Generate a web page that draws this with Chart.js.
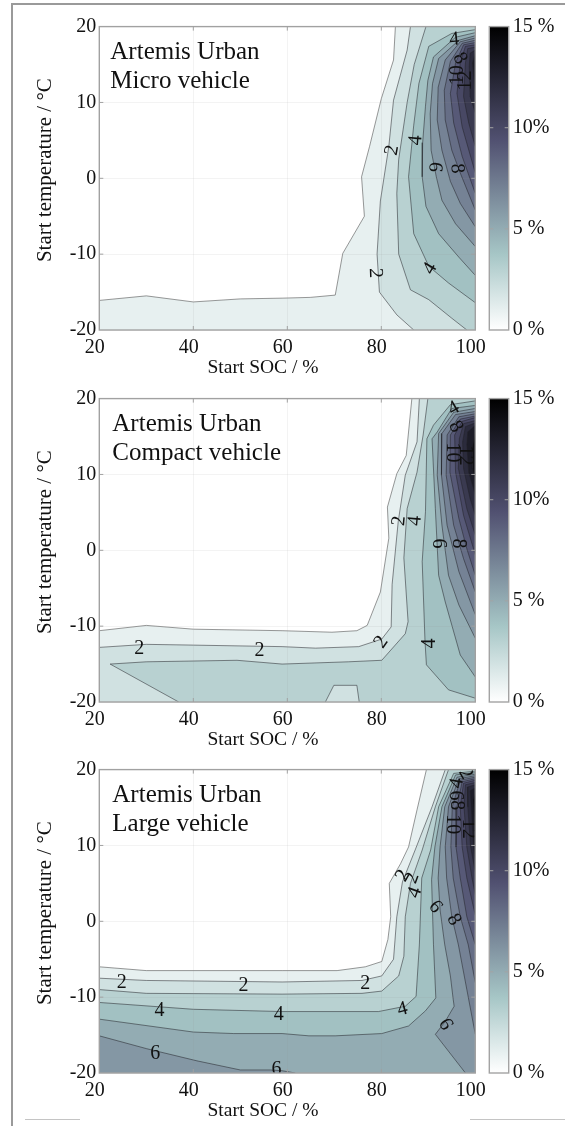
<!DOCTYPE html>
<html>
<head>
<meta charset="utf-8">
<title>Artemis Urban</title>
<script src="https://cdn.jsdelivr.net/npm/chart.js@4/dist/chart.umd.min.js"></script>
<style>
html, body { margin: 0; padding: 0; background: #fff; overflow: hidden; }
#page { position: relative; width: 565px; height: 1126px; }
#page canvas { position: absolute; }
.rule { position: absolute; background: #9a9a9a; }
</style>
</head>
<body>
<div id="page">
  <div class="rule" style="left:11px;top:3px;width:554px;height:2px"></div>
  <div class="rule" style="left:11px;top:3px;width:2px;height:1123px"></div>
  <div class="rule" style="left:25px;top:1119px;width:55px;height:1px;background:#c4c4c4"></div>
  <div class="rule" style="left:470px;top:1119px;width:95px;height:1px;background:#c4c4c4"></div>
</div>
<script>
const socTicks = [20, 40, 60, 80, 100];
const tempTicks = [-20, -10, 0, 10, 20];
const barTickLabels = { 0: '0 %', 5: '5 %', 10: '10%', 15: '15 %' };
const xTitle = 'Start SOC / %';
const yTitle = 'Start temperature / °C';
const cycleName = 'Artemis Urban';

// contour lines, [level, [[soc, temp], ...]]. the shaded region is on the left of the walking direction
const microLines = [
  [1, [[83,20],[82.6,15.6],[80,10.5],[77.5,4.2],[75.8,.2],[76.4,-5],[71.8,-9.9],[70.2,-15.4],[64.9,-15.7],[58.9,-15.8],[50,-15.9],[40,-16.3],[30,-15.5],[20,-16.1]]],
  [2, [[86.2,20],[85.5,16.9],[82.6,10.3],[81.6,4.2],[79.8,-3],[79.1,-10],[79.6,-15],[83.3,-18],[86.9,-20]]],
  [3, [[89.5,20],[87,15],[85.5,10],[83.7,2.5],[83.3,-2],[83.7,-10],[86.2,-14.7],[90.1,-16],[94.9,-18.4],[98.2,-20]]],
  [4, [[100,19.6],[95,19.1],[90.1,17.4],[88,12.5],[86.9,7],[85.8,.2],[86.9,-7.3],[90.1,-11.6],[94.3,-13.8],[100,-16.4]]],
  [5, [[100,19.2],[95.8,18.6],[91.1,16],[89.9,12.9],[89.4,9.5],[88.8,4.7],[88.7,.2],[89.5,-3.7],[92.2,-7.3],[96.5,-10.4],[100,-12.8]]],
  [6, [[100,18.8],[96.5,18.2],[92.2,15.8],[90.9,12.5],[90.4,8.5],[90.6,3.7],[91.7,.2],[92.9,-2.9],[95.8,-6],[100,-9]]],
  [7, [[100,18.5],[96.8,18],[93.6,15.6],[92.1,12],[91.9,7.7],[92.9,3.7],[94.7,-.4],[96.8,-3.3],[100,-6.4]]],
  [8, [[100,18.2],[97.2,17.8],[94.7,15.4],[93.4,11.6],[93.6,7.7],[95,3.7],[96.8,.7],[100,-4.2]]],
  [9, [[100,17.9],[97.5,17.6],[95.8,15.2],[94.7,11.2],[95.4,7.3],[97.2,2.9],[100,-2]]],
  [10, [[100,17.6],[97.9,17.4],[96.8,15.2],[96.1,11.2],[97.2,6.8],[100,.7]]],
  [11, [[100,17.3],[98.4,17.1],[97.9,15.2],[97.5,10.8],[98.6,7.3],[100,4.2]]],
  [12, [[100,16.9],[98.9,16.5],[98.7,14.7],[98.9,10.8],[100,8.6]]],
  [13, [[100,16.5],[99.4,15.2],[100,11.2]]]
];
const compactLines = [
  [1, [[86.5,20],[85.3,12.5],[83.3,10.1],[81.3,5.7],[81.6,1.6],[79.8,-5.5],[77,-9.9],[74.8,-10.6],[69.5,-10.8],[58.9,-10.6],[40,-10.4],[30,-9.9],[20,-10.6]]],
  [2, [[88.1,20],[87.6,14.3],[85.1,9.9],[83.6,3.8],[82.3,-4.5],[82.1,-10.1],[80.1,-11.7],[75.2,-12.7],[66,-12.9],[58.9,-12.7],[40,-12.5],[30,-12.4],[20,-12.8]]],
  [3, [[89.9,20],[88.9,15.2],[87.6,10.3],[85.5,5.5],[84.8,-1],[85.7,-9.4],[85.1,-11],[80.1,-14.5],[73,-14.7],[58.9,-15],[49.3,-14.5],[30,-14.7],[22.3,-15],[36.9,-20]]],
  [2, [[75.3,-20],[74.8,-17.8],[69.9,-17.8],[68.1,-20]]],
  [4, [[100,19.7],[94.7,19.2],[91.1,16.5],[89.7,14.7],[89.4,5.1],[88.7,-1.5],[89.3,-12],[89.6,-15.1],[94.3,-18.4],[100,-19.5]]],
  [5, [[100,19.1],[95,18.7],[91.9,15.6],[90.8,14.7],[91.5,5.5],[92.2,-3.3],[93.6,-6.8],[96.8,-13.8],[100,-16.7]]],
  [6, [[100,18.7],[95.4,18.2],[92.2,15.4],[91.9,9.9],[92.9,3.3],[94.3,-3.3],[96.5,-7.2],[100,-11.6]]],
  [7, [[100,18.3],[95.8,17.9],[92.9,15.4],[92.8,9.9],[94,3.3],[96.5,-2.8],[100,-8.5]]],
  [8, [[100,18],[96.5,17.6],[94,15.2],[93.8,9.9],[95.4,3.3],[97.5,-1.1],[100,-5.5]]],
  [9, [[100,17.7],[96.8,17.3],[94.7,15.2],[94.6,10.3],[96.5,4.2],[98.2,.2],[100,-3.3]]],
  [10, [[100,17.5],[97.2,17],[95.6,15.2],[95.8,10.3],[97.5,4.6],[100,-.6]]],
  [11, [[100,17.1],[97.5,16.7],[96.6,14.7],[96.4,10.8],[98.2,5.5],[100,2]]],
  [12, [[100,16.8],[97.9,16.3],[97.3,14.3],[97.5,10.8],[98.9,6.8],[100,4.6]]],
  [13, [[100,16.5],[98.4,15.6],[98.2,13.9],[98.6,10.3],[100,7.3]]],
  [14, [[100,15.6],[99.3,13.4],[99.4,10.8],[100,9]]]
];
const largeLines = [
  [1, [[89.6,20],[87.6,14.7],[85.8,9.8],[84.1,7.6],[81.7,5],[82,.6],[81.4,-2.4],[80.1,-5.3],[76.6,-6],[70.6,-6.5],[58.9,-6.5],[30,-6.5],[20,-6]]],
  [2, [[93.6,20],[90.8,15.1],[87.2,9.4],[84.5,5.2],[83.3,.6],[82.6,-5],[80.1,-7.2],[75.9,-7.8],[58.9,-8],[30,-7.8],[20,-7.5]]],
  [3, [[94.3,20],[91.5,15.1],[88.7,9.4],[86.2,5],[85.1,.6],[84.8,-4.6],[83.7,-7.2],[80.1,-9.2],[75.9,-9.5],[58.9,-9.6],[30,-9.5],[20,-9]]],
  [4, [[100,19.8],[95.4,19.5],[92.2,15.1],[90.5,9.4],[88.6,5.7],[88.1,-3.1],[87.4,-9.9],[85.1,-11.2],[79.4,-11.9],[58.9,-11.9],[40,-11.6],[20,-10.7]]],
  [5, [[100,19.6],[95.8,19.3],[92.9,15.1],[91.4,9.8],[90.7,5.5],[91.1,-3.1],[91.6,-10.1],[89.4,-11.8],[85.8,-13.8],[80.1,-14.8],[70.2,-15.1],[64.6,-15.1],[58.9,-14.8],[48.6,-14.8],[40,-14.6],[20,-12.9]]],
  [6, [[61.7,-20],[58.9,-19.7],[56.4,-19.6],[50,-19.6],[40.8,-18.4],[30.1,-16.8],[20,-15.1]]],
  [6, [[100,19.4],[96.1,19],[93.5,15.1],[92.5,9.8],[92.1,5.7],[92.5,1.5],[93.5,-3.1],[94.7,-7.2],[95.3,-10.3],[95.5,-11.2],[93.6,-13.2],[91.5,-14.9],[97.9,-20]]],
  [7, [[100,19.2],[96.5,18.8],[94.3,15.1],[93.6,9.8],[93.9,5.7],[95,.6],[96.4,-3.1],[98.2,-9],[100,-14.9]]],
  [8, [[100,19],[96.8,18.6],[95.1,15.1],[94.8,9.8],[95.3,5.7],[96.8,.6],[98.5,-3.1],[100,-8.1]]],
  [9, [[100,18.8],[97.2,18.4],[96.1,15.1],[95.9,9.8],[96.8,5.7],[98.2,.6],[100,-3.1]]],
  [10, [[100,18.6],[97.5,18.2],[96.8,15.1],[97.2,9.8],[98.2,5.7],[100,.8]]],
  [11, [[100,18.3],[97.9,18],[97.6,15.1],[98.2,9.8],[99.3,5.7],[100,3.5]]],
  [12, [[100,18],[98.3,17.7],[98.4,15.1],[99,9.8],[100,6.5]]],
  [13, [[100,17.6],[98.9,17.2],[99.2,14.5],[99.6,10],[100,8]]],
  [14, [[100,17],[99.5,16],[99.7,14],[100,11]]]
];

// inline contour labels, [soc, temp, text, rotation in degrees]
const microLabels = [
  [82.3,3.7,'2',-80],[78.7,-12.5,'2',88],[87.4,5,'4',-85],[90.4,-11.9,'4',-60],[91.4,1.5,'6',95],[96.1,1.3,'8',85],
  [95.5,18.3,'4',-5],[96.7,15.8,'8',60],[96.3,13.6,'10',-90],[98,12.9,'12',-90]
];
const compactLabels = [
  [28.5,-13,'2',0],[54.1,-13.2,'2',0],[80,-12.1,'2',-55],[83.8,3.9,'2',-85],[87.2,3.9,'4',-85],[90.4,-12.3,'4',-90],
  [92.2,.9,'6',90],[96.3,.9,'8',90],[95.4,18.7,'4',-30],[95.8,16.3,'8',60],[95.2,12.9,'10',90],[97.9,12.5,'12',90]
];
const largeLabels = [
  [24.8,-8.1,'2',0],[50.7,-8.5,'2',0],[76.6,-8.2,'2',0],[32.8,-11.8,'4',0],[58.2,-12.3,'4',0],[84.5,-11.6,'4',-15],
  [31.9,-17.5,'6',0],[57.7,-19.6,'6',0],[93.6,-13.6,'6',60],[84.6,6,'2',-60],[86.6,5.7,'2',-70],[87.2,3.8,'4',-70],
  [91.5,1.9,'6',50],[95.4,.2,'8',60],[97.9,19.5,'2',60],[96.1,18.2,'4',-80],[95.8,16.6,'6',90],[96,15.3,'8',90],
  [95,12.8,'10',90],[98.5,12.2,'12',90]
];

const SERIF = '"Liberation Serif", "Times New Roman", serif';
const FRAME = '#a3a3a3';

// bone colormap, reversed. 0 % white and 15 % black
function boneColor(v) {
  const stops = [[0, 255, 255, 255], [3.75, 166, 198, 198], [9.375, 81, 81, 113], [15, 0, 0, 0]];
  for (let i = 1; i < stops.length; i++) {
    if (v <= stops[i][0]) {
      const a = stops[i - 1], b = stops[i];
      const f = (v - a[0]) / (b[0] - a[0]);
      const c = [1, 2, 3].map(k => Math.round(a[k] + (b[k] - a[k]) * f));
      return `rgb(${c[0]},${c[1]},${c[2]})`;
    }
  }
  return '#000';
}

// position along the plot edge, going left side -> bottom -> right side -> top
function edgePos(p) {
  if (p[0] <= 20) return (20 - p[1]) / 40;
  if (p[1] <= -20) return 1 + (p[0] - 20) / 80;
  if (p[0] >= 100) return 2 + (p[1] + 20) / 40;
  return 3 + (100 - p[0]) / 80;
}
function closeShape(pts) {
  const corners = [[20, 20], [20, -20], [100, -20], [100, 20]];
  const from = edgePos(pts[pts.length - 1]);
  let to = edgePos(pts[0]);
  if (to < from) to += 4;
  const out = pts.slice();
  for (let k = Math.ceil(from); k < to; k++) out.push(corners[k % 4]);
  return out.map(p => ({ x: p[0], y: p[1] }));
}

function contourDatasets(lines) {
  const sets = [];
  lines.forEach(function(entry, i) {
    const level = entry[0], pts = entry[1];
    sets.push({
      data: closeShape(pts), showLine: true, fill: 'shape', backgroundColor: boneColor(level),
      borderWidth: 0, pointRadius: 0, order: -2 * i
    });
    sets.push({
      data: pts.map(p => ({ x: p[0], y: p[1] })), showLine: true, fill: false,
      borderColor: level == 1 ? 'rgba(70,70,70,0.65)' : 'rgba(35,35,40,0.62)',
      borderWidth: 0.85, pointRadius: 0, order: -2 * i - 1
    });
  });
  return sets;
}

function text(ctx, str, x, y, font, rot, align) {
  ctx.save();
  ctx.translate(x, y);
  ctx.rotate((rot || 0) * Math.PI / 180);
  ctx.font = font;
  ctx.fillStyle = '#111';
  ctx.textAlign = align || 'center';
  ctx.textBaseline = 'middle';
  ctx.fillText(str, 0, 0);
  ctx.restore();
}

// frame, little inward ticks, contour labels and the texts
const panelDecor = {
  id: 'panelDecor',
  afterDatasetsDraw(chart, args, opts) {
    const { ctx, chartArea: a, scales } = chart;
    ctx.save();
    ctx.beginPath();
    ctx.rect(a.left, a.top, a.width, a.height);
    ctx.clip();
    opts.labels.forEach(function(l) {
      text(ctx, l[2], scales.x.getPixelForValue(l[0]), scales.y.getPixelForValue(l[1]), '20px ' + SERIF, l[3]);
    });
    ctx.restore();

    ctx.strokeStyle = FRAME;
    ctx.lineWidth = 1.4;
    ctx.strokeRect(a.left, a.top, a.width, a.height);
    ctx.lineWidth = 1;
    ctx.beginPath();
    socTicks.slice(1, -1).forEach(function(v) {
      const x = scales.x.getPixelForValue(v);
      ctx.moveTo(x, a.top); ctx.lineTo(x, a.top + 4);
      ctx.moveTo(x, a.bottom); ctx.lineTo(x, a.bottom - 4);
    });
    tempTicks.slice(1, -1).forEach(function(v) {
      const y = scales.y.getPixelForValue(v);
      ctx.moveTo(a.left, y); ctx.lineTo(a.left + 4, y);
      ctx.moveTo(a.right, y); ctx.lineTo(a.right - 4, y);
    });
    ctx.stroke();

    text(ctx, cycleName, a.left + opts.noteX, a.top + 26, '25px ' + SERIF, 0, 'left');
    text(ctx, opts.name, a.left + opts.noteX, a.top + 55, '25px ' + SERIF, 0, 'left');
    text(ctx, xTitle, 263, a.bottom + 38, '19.5px ' + SERIF);
    text(ctx, yTitle, 45, a.top + 143.5, '21px ' + SERIF, -90);
  }
};

function drawPanel(top, lines, labels, name, noteX) {
  const page = document.getElementById('page');
  const canvas = document.createElement('canvas');
  canvas.style.left = '0px';
  canvas.style.top = top + 'px';
  canvas.width = 565;
  canvas.height = 375;
  page.appendChild(canvas);

  new Chart(canvas, {
    type: 'scatter',
    data: { datasets: contourDatasets(lines) },
    options: {
      responsive: false,
      animation: false,
      layout: { padding: { top: 26.6, right: 89.7, bottom: 0, left: 0 } },
      plugins: { legend: { display: false }, tooltip: { enabled: false }, panelDecor: { labels: labels, name: name, noteX: noteX } },
      scales: {
        x: {
          type: 'linear', min: 20, max: 100,
          afterFit(axis) { axis.height = 45; axis.paddingLeft = 0; axis.paddingRight = 0; },
          afterBuildTicks(axis) { axis.ticks = socTicks.map(v => ({ value: v })); },
          grid: { color: 'rgba(150,150,150,0.11)', drawTicks: false, z: 1 },
          border: { display: false },
          ticks: { font: { family: SERIF, size: 20 }, color: '#111', padding: 6, labelOffset: -4.5, maxRotation: 0, autoSkip: false }
        },
        y: {
          type: 'linear', min: -20, max: 20,
          afterFit(axis) { axis.width = 99.3; axis.paddingTop = 0; axis.paddingBottom = 0; },
          afterBuildTicks(axis) { axis.ticks = tempTicks.map(v => ({ value: v })); },
          grid: { color: 'rgba(150,150,150,0.11)', drawTicks: false, z: 1 },
          border: { display: false },
          ticks: { font: { family: SERIF, size: 20 }, color: '#111', padding: 3, autoSkip: false }
        }
      }
    },
    plugins: [panelDecor]
  });

  // colour bar is one floating bar with a gradient, on its own little chart
  const barCanvas = document.createElement('canvas');
  barCanvas.style.left = '480px';
  barCanvas.style.top = top + 'px';
  barCanvas.width = 85;
  barCanvas.height = 375;
  page.appendChild(barCanvas);

  new Chart(barCanvas, {
    type: 'bar',
    data: {
      labels: ['bar'],
      datasets: [{
        data: [[0, 15]],
        barPercentage: 1,
        categoryPercentage: 1,
        backgroundColor(ctx) {
          const { chartArea: a, scales } = ctx.chart;
          if (!a) return '#888';
          const g = ctx.chart.ctx.createLinearGradient(0, scales.y.getPixelForValue(0), 0, scales.y.getPixelForValue(15));
          [0, 3.75, 9.375, 15].forEach(v => g.addColorStop(v / 15, boneColor(v)));
          return g;
        }
      }]
    },
    options: {
      responsive: false,
      animation: false,
      layout: { padding: { top: 26.6, right: 0, bottom: 45, left: 9.3 } },
      plugins: { legend: { display: false }, tooltip: { enabled: false } },
      scales: {
        x: { display: false },
        y: {
          position: 'right', min: 0, max: 15,
          afterFit(axis) { axis.width = 56.3; axis.paddingTop = 0; axis.paddingBottom = 0; },
          afterBuildTicks(axis) { axis.ticks = Object.keys(barTickLabels).map(v => ({ value: Number(v) })); },
          grid: { display: false, drawTicks: false },
          border: { display: false },
          ticks: {
            font: { family: SERIF, size: 20 }, color: '#111', padding: 4, autoSkip: false,
            callback(v) { return barTickLabels[v]; }
          }
        }
      }
    },
    plugins: [{
      id: 'barFrame',
      afterDatasetsDraw(chart) {
        const { ctx, chartArea: a, scales } = chart;
        ctx.strokeStyle = FRAME;
        ctx.lineWidth = 1.4;
        ctx.strokeRect(a.left, a.top, a.width, a.height);
        ctx.lineWidth = 1;
        ctx.beginPath();
        [5, 10].forEach(function(v) {
          const y = scales.y.getPixelForValue(v);
          ctx.moveTo(a.left, y); ctx.lineTo(a.left + 4, y);
          ctx.moveTo(a.right, y); ctx.lineTo(a.right - 4, y);
        });
        ctx.stroke();
      }
    }]
  });
}

drawPanel(0, microLines, microLabels, 'Micro vehicle', 11);
drawPanel(372, compactLines, compactLabels, 'Compact vehicle', 13);
drawPanel(743, largeLines, largeLabels, 'Large vehicle', 13);
</script>
</body>
</html>
